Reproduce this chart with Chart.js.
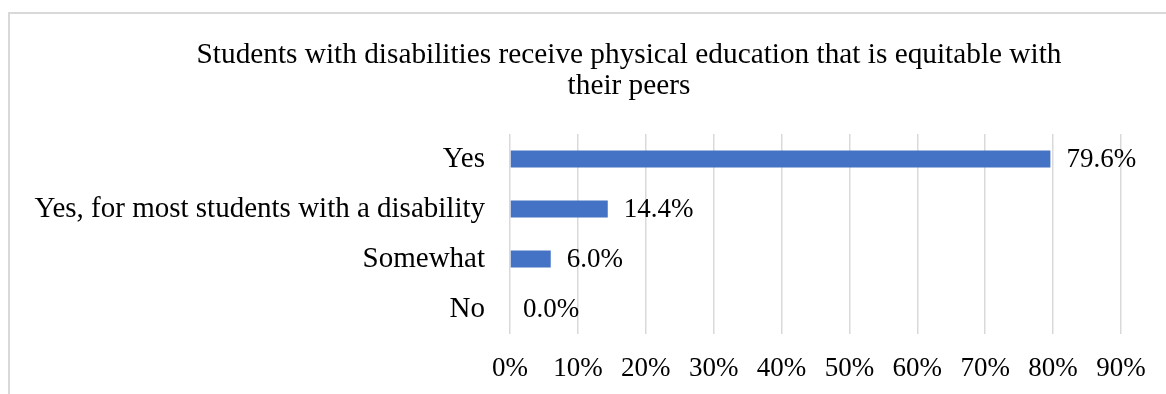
<!DOCTYPE html>
<html>
<head>
<meta charset="utf-8">
<script src="https://cdn.jsdelivr.net/npm/chart.js@4/dist/chart.umd.min.js"></script>
<style>
  html, body { margin: 0; padding: 0; background: #fff; overflow: hidden; }
  #frame { position: absolute; left: 8px; top: 12px; width: 1200px; height: 420px; border: 2px solid #d9d9d9; box-sizing: border-box; }
  #wrap { position: absolute; left: 0; top: 0; width: 1166px; height: 394px; }
</style>
</head>
<body>
<div id="frame"></div>
<div id="wrap"><canvas id="c" width="1166" height="394"></canvas></div>
<script>
const titleLines = ['Students with disabilities receive physical education that is equitable with', 'their peers'];
const categories = ['Yes', 'Yes, for most students with a disability', 'Somewhat', 'No'];
const values = [79.6, 14.4, 6.0, 0.0];
const axisMin = 0;
const axisMax = 90;
const axisStep = 10;

const FONT = "'Liberation Serif', 'Times New Roman', serif";

const chartTitle = {
  id: 'chartTitle',
  afterDraw(chart) {
    const ctx = chart.ctx;
    ctx.save();
    ctx.font = '29.3px ' + FONT;
    ctx.fillStyle = '#000';
    ctx.textAlign = 'center';
    ctx.textBaseline = 'middle';
    titleLines.forEach((t, i) => ctx.fillText(t, 629, 55 + i * 31));
    ctx.restore();
  }
};

const valueLabels = {
  id: 'valueLabels',
  afterDatasetsDraw(chart) {
    const ctx = chart.ctx;
    const meta = chart.getDatasetMeta(0);
    ctx.save();
    ctx.font = '27px ' + FONT;
    ctx.fillStyle = '#000';
    ctx.textAlign = 'left';
    ctx.textBaseline = 'middle';
    meta.data.forEach((bar, i) => {
      const v = chart.data.datasets[0].data[i];
      const off = v === 0 ? 13 : 16;
      ctx.fillText(v.toFixed(1) + '%', bar.x + off, bar.y + 1);
    });
    ctx.restore();
  }
};

new Chart(document.getElementById('c'), {
  type: 'bar',
  data: {
    labels: categories,
    datasets: [{
      data: values,
      backgroundColor: '#4472C4',
      borderWidth: 0,
      categoryPercentage: 1,
      barPercentage: 0.34
    }]
  },
  options: {
    indexAxis: 'y',
    responsive: false,
    animation: false,
    devicePixelRatio: 1,
    layout: { padding: { left: 0, right: 45, top: 134, bottom: 0 } },
    plugins: {
      legend: { display: false },
      tooltip: { enabled: false },
      title: { display: false }
    },
    scales: {
      x: {
        min: axisMin,
        max: axisMax,
        ticks: {
          stepSize: axisStep,
          color: '#000',
          font: { family: FONT, size: 27 },
          padding: 19,
          callback: v => v + '%'
        },
        grid: { color: '#d9d9d9', lineWidth: 1.5, drawTicks: false },
        border: { display: false },
        afterFit: s => { s.height = 60; }
      },
      y: {
        ticks: {
          color: '#000',
          font: { family: FONT, size: 29 },
          padding: 25
        },
        grid: { display: false, drawTicks: false },
        border: { display: false },
        afterFit: s => { s.width = 510; }
      }
    }
  },
  plugins: [valueLabels, chartTitle]
});
</script>
</body>
</html>
